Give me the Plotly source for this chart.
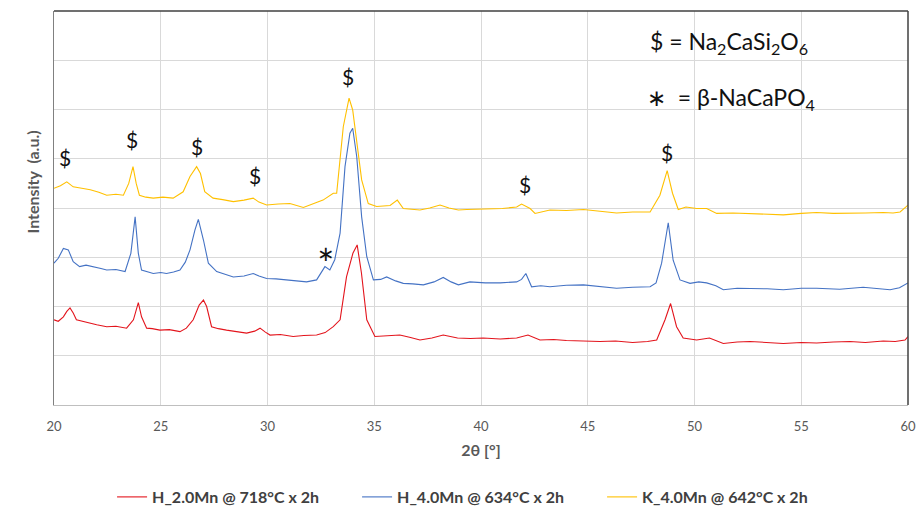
import plotly.graph_objects as go

# ---- data (intensity in grid units) ----
red_name = "H_2.0Mn @ 718°C x 2h"
red_x = [20.0, 20.2, 20.44, 20.6, 20.75, 20.9, 21.05, 21.3, 21.69, 22.0, 22.47, 22.9, 23.4, 23.72, 23.95, 24.1,
         24.34, 24.6, 24.96, 25.4, 25.9, 26.2, 26.52, 26.8, 27.0, 27.15, 27.38, 27.7, 28.08, 28.5, 29.02, 29.4,
         29.65, 29.9, 30.12, 30.6, 31.2, 31.7, 32.3, 32.7, 33.08, 33.4, 33.7, 34.0, 34.2, 34.4, 34.65, 35.03,
         35.6, 36.2, 36.7, 37.14, 37.7, 38.23, 38.9, 39.5, 40.1, 40.9, 41.67, 42.2, 42.76, 43.4, 44.0, 44.8,
         45.57, 46.3, 47.1, 47.8, 48.23, 48.62, 48.88, 49.16, 49.47, 50.1, 50.7, 51.35, 52.0, 52.6, 53.4, 54.16,
         55.0, 55.72, 56.5, 57.28, 58.0, 58.84, 59.4, 59.86, 60.0]
red_y = [1.73, 1.70, 1.79, 1.90, 1.97, 1.87, 1.73, 1.70, 1.66, 1.63, 1.59, 1.60, 1.56, 1.73, 2.08, 1.79,
         1.56, 1.55, 1.52, 1.53, 1.49, 1.56, 1.73, 2.03, 2.13, 2.00, 1.59, 1.55, 1.52, 1.49, 1.46, 1.50,
         1.56, 1.48, 1.42, 1.43, 1.39, 1.41, 1.42, 1.47, 1.59, 1.73, 2.60, 3.08, 3.25, 2.68, 1.73, 1.39,
         1.40, 1.42, 1.37, 1.32, 1.36, 1.42, 1.36, 1.35, 1.36, 1.34, 1.36, 1.42, 1.32, 1.33, 1.31, 1.30,
         1.29, 1.30, 1.27, 1.29, 1.32, 1.73, 2.06, 1.59, 1.36, 1.32, 1.36, 1.25, 1.28, 1.29, 1.27, 1.25,
         1.27, 1.26, 1.28, 1.29, 1.27, 1.30, 1.29, 1.32, 1.39]

blue_name = "H_4.0Mn @ 634°C x 2h"
blue_x = [20.0, 20.2, 20.44, 20.67, 20.9, 21.2, 21.5, 21.85, 22.2, 22.47, 22.9, 23.33, 23.6, 23.8, 23.95, 24.1,
          24.4, 24.65, 25.0, 25.27, 25.6, 25.9, 26.15, 26.37, 26.6, 26.76, 27.0, 27.23, 27.62, 28.0, 28.4, 28.9,
          29.33, 29.6, 29.96, 30.4, 30.9, 31.4, 31.83, 32.3, 32.69, 32.92, 33.15, 33.4, 33.63, 33.86, 33.99,
          34.18, 34.41, 34.65, 34.96, 35.3, 35.58, 36.0, 36.36, 36.8, 37.3, 37.8, 38.23, 38.6, 38.94, 39.48,
          40.2, 40.9, 41.67, 41.9, 42.1, 42.37, 42.8, 43.23, 44.0, 44.8, 45.6, 46.35, 47.1, 47.92, 48.2, 48.46,
          48.77, 49.0, 49.32, 49.79, 50.2, 50.57, 51.0, 51.35, 52.0, 52.6, 53.4, 54.16, 55.0, 55.72, 56.8,
          57.9, 58.5, 59.16, 59.6, 60.0]
blue_y = [2.88, 2.98, 3.18, 3.15, 2.91, 2.81, 2.84, 2.81, 2.77, 2.74, 2.75, 2.71, 3.08, 3.82, 3.08, 2.74,
          2.70, 2.67, 2.69, 2.67, 2.70, 2.74, 2.90, 3.15, 3.55, 3.77, 3.35, 2.88, 2.71, 2.66, 2.60, 2.62,
          2.67, 2.62, 2.57, 2.56, 2.54, 2.53, 2.50, 2.54, 2.81, 2.74, 2.95, 3.49, 4.84, 5.52, 5.62,
          5.04, 3.82, 3.01, 2.54, 2.55, 2.60, 2.52, 2.47, 2.46, 2.44, 2.50, 2.59, 2.50, 2.44, 2.50,
          2.48, 2.48, 2.50, 2.55, 2.67, 2.40, 2.42, 2.40, 2.43, 2.44, 2.40, 2.37, 2.39, 2.40, 2.48, 2.88,
          3.70, 2.94, 2.54, 2.47, 2.50, 2.48, 2.42, 2.34, 2.37, 2.37, 2.36, 2.34, 2.37, 2.37, 2.35,
          2.39, 2.37, 2.34, 2.38, 2.48]

yellow_name = "K_4.0Mn @ 642°C x 2h"
yellow_x = [20.0, 20.3, 20.6, 20.9, 21.3, 21.7, 22.1, 22.47, 22.9, 23.25, 23.5, 23.7, 23.85, 24.0, 24.3, 24.65,
            25.1, 25.58, 26.05, 26.37, 26.68, 26.86, 27.06, 27.45, 27.9, 28.4, 28.9, 29.33, 29.6, 29.96, 30.5,
            31.05, 31.68, 32.1, 32.6, 33.08, 33.24, 33.55, 33.82, 33.99, 34.18, 34.41, 34.72, 35.11, 35.74,
            36.08, 36.36, 36.8, 37.14, 37.6, 38.08, 38.5, 38.94, 39.33, 40.42, 41.0, 41.67, 41.9, 42.3, 42.53,
            43.23, 44.0, 44.8, 45.6, 46.35, 47.1, 47.92, 48.38, 48.72, 48.97, 49.24, 49.6, 50.1, 50.57, 51.04,
            51.8, 52.6, 53.4, 54.16, 55.0, 55.72, 56.5, 57.28, 58.0, 58.84, 59.3, 59.63, 60.0]
yellow_y = [4.40, 4.45, 4.53, 4.43, 4.40, 4.37, 4.32, 4.26, 4.28, 4.26, 4.50, 4.84, 4.50, 4.26, 4.22, 4.20,
            4.22, 4.20, 4.33, 4.64, 4.84, 4.70, 4.33, 4.20, 4.17, 4.13, 4.16, 4.20, 4.12, 4.06, 4.08,
            4.09, 4.01, 4.08, 4.16, 4.30, 4.30, 5.65, 6.23, 5.99, 5.31, 4.57, 4.09, 4.03, 4.05,
            4.16, 3.99, 3.98, 3.96, 4.00, 4.06, 4.00, 3.96, 3.97, 3.99, 3.99, 4.02, 4.08, 3.99, 3.89,
            3.96, 3.95, 3.97, 3.94, 3.90, 3.92, 3.92, 4.26, 4.76, 4.30, 3.97, 4.02, 3.99, 3.99, 3.89,
            3.90, 3.89, 3.88, 3.86, 3.89, 3.91, 3.89, 3.89, 3.90, 3.91, 3.90, 3.92, 4.06]

x_ticks = [20, 25, 30, 35, 40, 45, 50, 55, 60]

# phase markers
marker_text = ["$", "$", "$", "$", "$", "$", "$", "∗"]
marker_x = [20.53, 23.67, 26.7, 29.4, 33.77, 42.06, 48.7, 32.74]
marker_y = [5.02, 5.40, 5.24, 4.67, 6.68, 4.47, 5.12, 3.09]

key_text = ["$ = Na<sub>2</sub>CaSi<sub>2</sub>O<sub>6</sub>", "∗  = β-NaCaPO<sub>4</sub>"]
key_x = [51.6, 51.7]
key_y = [7.37, 6.22]

FONT = "Lato, 'Open Sans', sans-serif"

fig = go.Figure()
for nm, xs, ys, col in [(red_name, red_x, red_y, "#E3141C"),
                        (blue_name, blue_x, blue_y, "#4472C4"),
                        (yellow_name, yellow_x, yellow_y, "#FFC000")]:
    fig.add_trace(go.Scatter(x=xs, y=ys, mode="lines", name=nm,
                             line=dict(color=col, width=1.1)))

for t, xx, yy in zip(marker_text, marker_x, marker_y):
    fig.add_annotation(x=xx, y=yy, text=t, showarrow=False,
                       font=dict(family=FONT, size=21, color="#111111"))

for t, xx, yy in zip(key_text, key_x, key_y):
    fig.add_annotation(x=xx, y=yy, text=t, showarrow=False,
                       font=dict(family=FONT, size=23, color="#111111"))

fig.add_annotation(xref="paper", yref="paper", x=-0.0375, y=0.566,
                   text="<b>Intensity  (a.u.)</b>", textangle=-90, showarrow=False,
                   font=dict(family=FONT, size=16, color="#595959"))

# frame top/right
fig.add_shape(type="line", xref="paper", yref="paper", x0=0, x1=1, y0=1, y1=1,
              line=dict(color="#404040", width=1.5))
fig.add_shape(type="line", xref="paper", yref="paper", x0=1, x1=1, y0=0, y1=1,
              line=dict(color="#404040", width=1.5))

fig.update_layout(
    width=917, height=511,
    margin=dict(l=54, r=9, t=11, b=106, autoexpand=False),
    paper_bgcolor="white", plot_bgcolor="white",
    font=dict(family=FONT, size=12, color="#595959"),
    showlegend=True,
    legend=dict(orientation="h", x=0.068, xanchor="left", y=-0.2335, yanchor="middle",
                font=dict(family=FONT, size=16, color="#404040", weight="bold"),
                itemwidth=30, entrywidth=200, entrywidthmode="pixels"),
    xaxis=dict(range=[20, 60], tickvals=x_ticks, showgrid=True, gridcolor="#d9d9d9", gridwidth=1,
               zeroline=False, showline=True, linecolor="#bfbfbf", linewidth=1,
               ticks="", ticklabelstandoff=9, automargin=False,
               tickfont=dict(family=FONT, size=13, color="#595959"),
               title=dict(text="<b>2θ [°]</b>", standoff=12,
                          font=dict(family=FONT, size=16, color="#595959"))),
    yaxis=dict(range=[0, 8], dtick=1, showgrid=True, gridcolor="#d9d9d9", gridwidth=1,
               zeroline=False, showline=True, linecolor="#808080", linewidth=1,
               showticklabels=False, ticks="", automargin=False),
)

post = ("document.body.style.margin='0';document.body.style.padding='0';"
        "document.documentElement.style.overflow='hidden';"
        "var gd=document.getElementById('{plot_id}');"
        "Plotly.relayout(gd,{width:917,height:511});")

fig.write_html("out.html", post_script=post, config={"displayModeBar": False})
